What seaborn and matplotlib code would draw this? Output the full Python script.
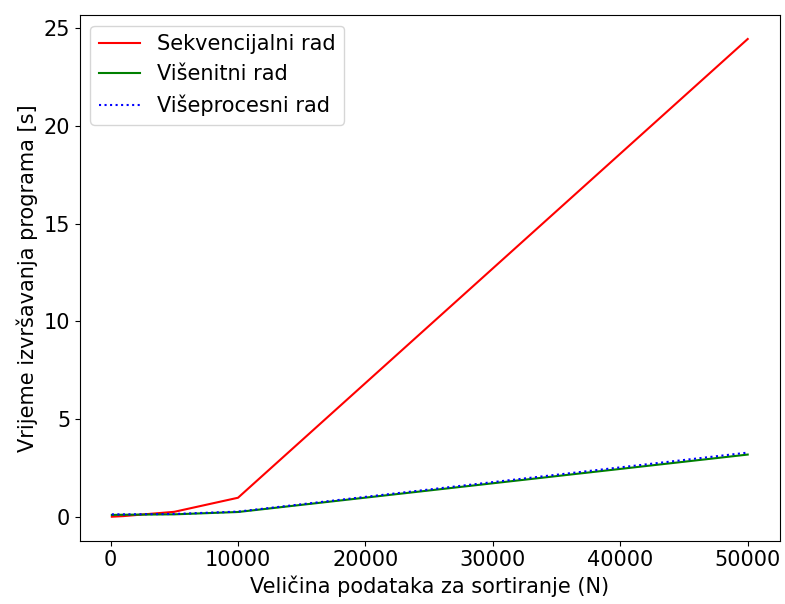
import numpy as np
import matplotlib
matplotlib.use('Agg')
import matplotlib.pyplot as plt
import seaborn as sns
import pandas as pd

# Veličine podataka i izmjerena vremena
n_values = [100, 1000, 5000, 10000, 50000]
sekvencijalni = [0.0, 0.03, 0.25, 0.97, 24.45]
visenitni = [0.09, 0.1, 0.12, 0.24, 3.18]
viseprocesni = [0.12, 0.12, 0.14, 0.26, 3.28]

plt.rcParams['font.size'] = 15

fig, ax = plt.subplots(figsize=(7.85, 6.04), dpi=100)

sns.lineplot(x=n_values, y=sekvencijalni, color='red', label='Sekvencijalni rad', ax=ax)
sns.lineplot(x=n_values, y=visenitni, color='green', label='Višenitni rad', ax=ax)
sns.lineplot(x=n_values, y=viseprocesni, color='blue', linestyle=':', label='Višeprocesni rad', ax=ax)

ax.set_xlabel('Veličina podataka za sortiranje (N)')
ax.set_ylabel('Vrijeme izvršavanja programa [s]')
ax.legend(loc='upper left')

fig.subplots_adjust(left=0.102, right=0.993, top=0.975, bottom=0.105)
fig.savefig('out.png', dpi=100)
